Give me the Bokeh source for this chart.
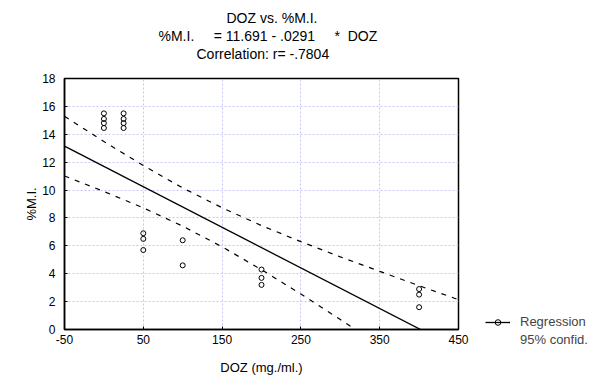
from bokeh.plotting import figure
from bokeh.models import Range1d, FixedTicker, Legend, LegendItem, Title, PrintfTickFormatter
from bokeh.embed import file_html
from bokeh.resources import INLINE
import numpy as np

# ---- data ----
dose = [0, 0, 0, 0, 25, 25, 25, 25, 50, 50, 50, 100, 100, 200, 200, 200, 400, 400, 400]
mi = [15.5, 15.1, 14.8, 14.45, 15.5, 15.1, 14.8, 14.45, 6.9, 6.5, 5.7, 6.4, 4.6,
      4.3, 3.7, 3.2, 2.9, 2.5, 1.6]
intercept = 11.691
slope = -0.0291
band_x = [-50, 0, 50, 100, 150, 200, 250, 300, 350, 400, 450]
band_upper = [15.29, 13.48, 11.76, 10.15, 8.73, 7.45, 6.30, 5.21, 4.17, 3.14, 2.14]
band_lower = [11.01, 9.90, 8.72, 7.41, 5.93, 4.29, 2.54, 0.71, -1.15, -3.04, -4.94]
x_ticks = [-50, 50, 150, 250, 350, 450]
y_ticks = [0, 2, 4, 6, 8, 10, 12, 14, 16, 18]
x_grid = [50, 150, 250, 350]
y_grid = [2, 4, 6, 8, 10, 12, 14, 16]
NB = "\u00a0"
title_lines = ["DOZ vs. %M.I.",
               "%M.I." + NB * 5 + "= 11.691 - .0291" + NB * 5 + "*" + NB * 2 + "DOZ",
               "Correlation: r= -.7804"]
legend_lines = ["Regression", "95% confid."]

FONT = "Liberation Sans"

p = figure(width=600, height=383, frame_width=394, frame_height=251,
           min_border_left=64, min_border_right=142, min_border_top=78, min_border_bottom=54,
           x_range=Range1d(-50, 450), y_range=Range1d(0, 18),
           title_location=None,
           output_backend="svg", toolbar_location=None)
p.background_fill_color = "white"
p.border_fill_color = "white"
p.outline_line_color = "black"
p.outline_line_width = 1.5

# grid
p.xgrid.ticker = FixedTicker(ticks=x_grid)
p.ygrid.ticker = FixedTicker(ticks=y_grid)
for g in (p.xgrid, p.ygrid):
    g.grid_line_color = "#c4c4f6"
    g.grid_line_dash = "2 2"
    g.grid_line_width = 1

# axes
p.xaxis.ticker = FixedTicker(ticks=x_ticks)
p.yaxis.ticker = FixedTicker(ticks=y_ticks)
p.xaxis.formatter = PrintfTickFormatter(format="%d")
for ax in (p.xaxis, p.yaxis):
    ax.axis_line_color = "black"
    ax.axis_line_width = 1.5
    ax.major_tick_in = 3
    ax.major_tick_out = 0
    ax.minor_tick_line_color = None
    ax.major_label_text_font = FONT
    ax.major_label_text_font_size = "12px"
    ax.major_label_text_color = "black"
    ax.axis_label_text_font = FONT
    ax.axis_label_text_font_size = "13px"
    ax.axis_label_text_font_style = "normal"
    ax.axis_label_text_color = "black"
p.xaxis.axis_label = "DOZ (mg./ml.)"
p.xaxis.major_label_standoff = 5
p.xaxis.axis_label_standoff = 13
p.yaxis.axis_label = "%M.I."
p.yaxis.major_label_standoff = 9
p.yaxis.axis_label_standoff = 0

# confidence bands
p.line(band_x, band_upper, line_color="black", line_width=1.2, line_dash="5 6")
p.line(band_x, band_lower, line_color="black", line_width=1.2, line_dash="5 6")

# regression line
reg_x = np.array([band_x[0], band_x[-1]], dtype=float)
reg_y = intercept + slope * reg_x
reg = p.line(reg_x, reg_y, line_color="black", line_width=1.3)

# points
pts = p.scatter(dose, mi, marker="circle", size=5, fill_color=None,
                line_color="black", line_width=1)

# invisible renderer for the second legend text line
blank = p.line(band_x[:2], band_upper[:2], line_alpha=0)

# spacer between frame and the title block
p.add_layout(Title(text=NB, text_font_size="1px", standoff=14), "above")
# titles (added innermost first), left-aligned with pixel offsets from frame left
title_offsets = [162, 94, 132]
for t, off in reversed(list(zip(title_lines, title_offsets))):
    p.add_layout(Title(text=t, align="left", offset=off, standoff=0,
                       text_font=FONT, text_font_size="14px", text_font_style="normal",
                       text_color="black"), "above")

# legend
legend = Legend(items=[LegendItem(label=legend_lines[0], renderers=[reg, pts]),
                       LegendItem(label=legend_lines[1], renderers=[blank])],
                location=(27, -18), padding=0, margin=0, spacing=3,
                glyph_width=25, glyph_height=14, label_height=14, label_standoff=10,
                label_text_font=FONT, label_text_font_size="13px",
                border_line_alpha=0, background_fill_alpha=0)
p.add_layout(legend, "right")

open("out.html", "w").write(file_html(p, INLINE))
